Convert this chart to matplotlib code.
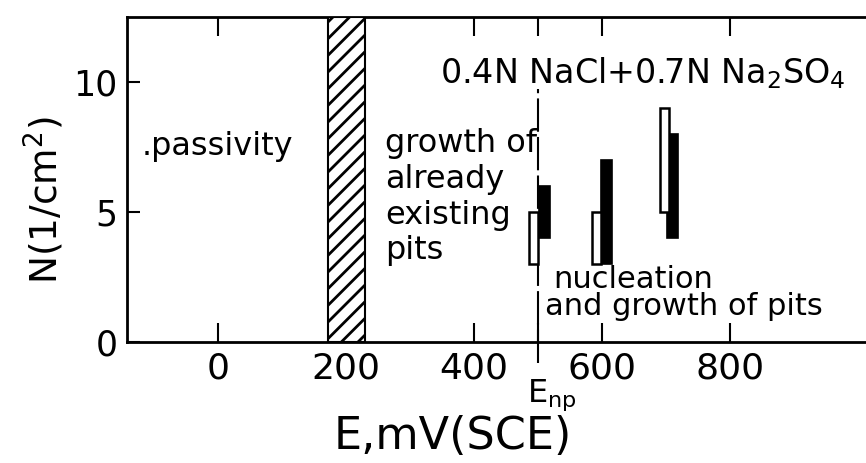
import matplotlib
matplotlib.use('Agg')
import matplotlib.pyplot as plt
import numpy as np

# pit counts at three potentials, open = one series, filled = the other
E_open = [493, 591, 697]
N_open_lo = [3, 3, 5]
N_open_hi = [5, 5, 9]
E_filled = [510, 607, 710]
N_filled_lo = [4, 3, 4]
N_filled_hi = [6, 7, 8]

E_np = 500                 # nucleation potential
E_transition = [172, 230]  # hatched band
x_ticks = [0, 200, 400, 500, 600, 800]
x_ticklabels = ['0', '200', '400', '', '600', '800']
y_ticks = [0, 5, 10]

plt.rcParams['font.family'] = ['DejaVu Sans']
plt.rcParams['hatch.linewidth'] = 2.0

fig = plt.figure(figsize=(8.66, 4.63), dpi=100)
ax = fig.add_axes([127/866, 121/463, 739/866, 325/463])
ax.set_xlim(-142, 1012)
ax.set_ylim(0, 12.5)

# hatched transition region
ax.axvspan(E_transition[0], E_transition[1], facecolor='white', edgecolor='black',
           hatch='//', lw=1.5, zorder=3)

# bars
ax.bar(E_filled, np.subtract(N_filled_hi, N_filled_lo), bottom=N_filled_lo, width=18,
       color='black', edgecolor='black', lw=1.2, zorder=4)
ax.bar(E_open, np.subtract(N_open_hi, N_open_lo), bottom=N_open_lo, width=14,
       facecolor='white', edgecolor='black', lw=1.8, zorder=5)

# E_np dashed line
ax.axvline(E_np, ymin=-0.065, ymax=0.78, color='black', lw=1.5,
           linestyle=(0, (16, 2.5)), clip_on=False, zorder=2)

ax.set_xticks(x_ticks)
ax.set_xticklabels(x_ticklabels)
ax.set_yticks(y_ticks)
ax.tick_params(axis='x', direction='in', length=14, width=1.5, top=True,
               labelsize=26, pad=7)
ax.tick_params(axis='y', direction='in', length=9, width=1.5, labelsize=25, pad=7)

for s in ['left', 'bottom', 'top']:
    ax.spines[s].set_linewidth(2)
ax.spines['right'].set_visible(False)

ax.set_xlabel('E,mV(SCE)', fontsize=32)
ax.xaxis.set_label_coords(0.441, -0.225)
ax.set_ylabel('N(1/cm$^2$)', fontsize=27)
ax.yaxis.set_label_coords(-0.083, 0.437)

# annotations
ax.text(-119, 7.19, '.passivity', fontsize=23, va='baseline')
ax.text(261, 8.23, 'growth of\nalready\nexisting\npits', fontsize=23, va='top',
        linespacing=1.2)
ax.text(347, 9.96, '0.4N NaCl+0.7N Na$_2$SO$_4$', fontsize=24, va='baseline')
ax.text(523, 2.08, 'nucleation', fontsize=22, va='baseline')
ax.text(511, 1.04, 'and growth of pits', fontsize=22, va='baseline')
ax.text(483, -2.3, 'E$_{\\mathrm{np}}$', fontsize=23, va='baseline')

fig.savefig('out.png', dpi=100)
